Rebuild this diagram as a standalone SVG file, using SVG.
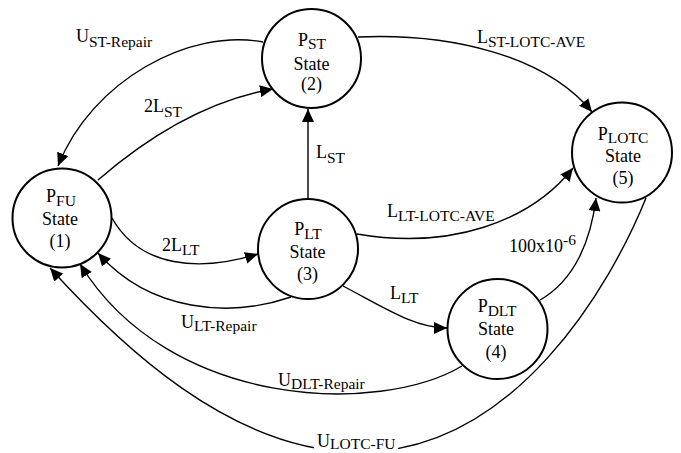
<svg xmlns="http://www.w3.org/2000/svg" width="681" height="453" viewBox="0 0 681 453" font-family="'Liberation Serif', 'DejaVu Serif', serif">
<style>
  .node circle { fill: #fff; stroke: #000; stroke-width: 2; }
  .edge { fill: none; stroke: #000; stroke-width: 1.4; marker-end: url(#arr); }
  text { font-family: 'Liberation Serif', 'DejaVu Serif', serif; font-size: 18px; fill: #000; }
  .c { text-anchor: middle; }
  .sub { font-size: 15.5px; }
  .mask { fill: #fff; stroke: none; }
</style>
<defs>
  <marker id="arr" markerUnits="userSpaceOnUse" markerWidth="14" markerHeight="12" refX="13" refY="6" orient="auto">
    <path d="M0,0 L13,6 L0,12 z" fill="#000"/>
  </marker>
</defs>

<g id="connectors">
  <path class="edge" d="M 263 42 C 190 28, 92 80, 58 166"/>
  <path class="edge" d="M 98 180 C 150 135, 210 100, 273 89"/>
  <path class="edge" d="M 308 201 L 308 109"/>
  <path class="edge" d="M 358 37 C 450 33, 545 55, 592 112"/>
  <path class="edge" d="M 112 218 C 140 268, 200 272, 258 254"/>
  <path class="edge" d="M 291 297 C 230 318, 150 312, 98 253"/>
  <path class="edge" d="M 357 234 C 450 250, 530 222, 573 168"/>
  <path class="edge" d="M 343 286 C 385 308, 415 328, 447 328"/>
  <path class="edge" d="M 540 300 C 575 280, 591 240, 596 198"/>
  <path class="edge" d="M 462 366 C 380 415, 170 410, 80 264"/>
  <path class="edge" d="M 646 198 C 612 282, 515 455, 355 452 C 230 450, 120 345, 50 268"/>
</g>

<g id="labels">
  <text x="76" y="42">U<tspan class="sub" dy="5">ST-Repair</tspan></text>
  <text x="144" y="112">2L<tspan class="sub" dy="5">ST</tspan></text>
  <text x="316" y="158">L<tspan class="sub" dy="5">ST</tspan></text>
  <text x="477" y="43">L<tspan class="sub" dy="4">ST-LOTC-AVE</tspan></text>
  <text x="162" y="251">2L<tspan class="sub" dy="4">LT</tspan></text>
  <text x="387" y="217">L<tspan class="sub" dy="4">LT-LOTC-AVE</tspan></text>
  <text x="509" y="252">100x10<tspan class="sub" dy="-7">-6</tspan></text>
  <text x="390" y="299">L<tspan class="sub" dy="4">LT</tspan></text>
  <text x="181" y="328">U<tspan class="sub" dy="3">LT-Repair</tspan></text>
  <text x="278" y="386">U<tspan class="sub" dy="3">DLT-Repair</tspan></text>
  <rect class="mask" x="314" y="432" width="84" height="21"/>
  <text x="317" y="447">U<tspan class="sub" dy="2">LOTC-FU</tspan></text>
</g>

<g id="node1" class="node">
  <circle cx="62" cy="218" r="49.5"/>
  <text class="c" x="61" y="202">P<tspan class="sub" dy="4">FU</tspan></text>
  <text class="c" x="60" y="225">State</text>
  <text class="c" x="60" y="247">(1)</text>
</g>
<g id="node2" class="node">
  <circle cx="311.5" cy="58.5" r="49.5"/>
  <text class="c" x="312" y="46">P<tspan class="sub" dy="3">ST</tspan></text>
  <text class="c" x="311.5" y="70">State</text>
  <text class="c" x="311.5" y="90">(2)</text>
</g>
<g id="node3" class="node">
  <circle cx="308" cy="249" r="50"/>
  <text class="c" x="308" y="235">P<tspan class="sub" dy="4">LT</tspan></text>
  <text class="c" x="307.5" y="258">State</text>
  <text class="c" x="307.5" y="280">(3)</text>
</g>
<g id="node4" class="node">
  <circle cx="497.5" cy="329" r="50"/>
  <text class="c" x="497" y="312">P<tspan class="sub" dy="4">DLT</tspan></text>
  <text class="c" x="496" y="335">State</text>
  <text class="c" x="496" y="358">(4)</text>
</g>
<g id="node5" class="node">
  <circle cx="622" cy="152.5" r="50"/>
  <text class="c" x="623" y="140">P<tspan class="sub" dy="3">LOTC</tspan></text>
  <text class="c" x="623" y="162">State</text>
  <text class="c" x="623" y="184">(5)</text>
</g>
</svg>
